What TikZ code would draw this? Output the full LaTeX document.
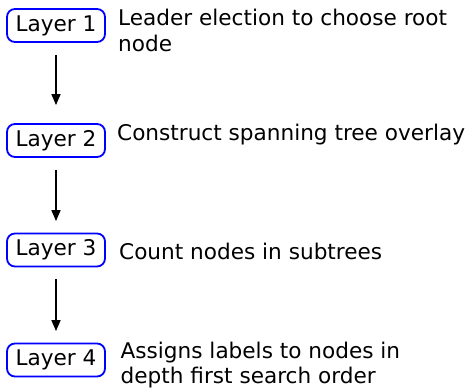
\documentclass[tikz,border=0pt]{standalone}
\usepackage{fontspec}
\setmainfont{DejaVu Sans}
\usetikzlibrary{arrows.meta}

\begin{document}
\begin{tikzpicture}[x=1pt, y=-1pt,
        layer/.style={draw=blue, line width=1.8pt, rounded corners=8pt, minimum width=98pt, minimum height=33pt, inner sep=0pt, font=\fontsize{21.6}{26}\selectfont},
        desc/.style={anchor=base west, align=left, inner sep=0pt, font=\fontsize{21.6}{26}\selectfont},
        flow/.style={line width=1.6pt, -{Triangle[length=11pt, width=9pt]}, shorten <=12pt}]
        \useasboundingbox (0,0) rectangle (471,389);

        \node[layer] (l1) at (56, 25.5) {Layer 1};
        \node[layer] (l2) at (56, 140.5) {Layer 2};
        \node[layer] (l3) at (56, 250) {Layer 3};
        \node[layer] (l4) at (56, 360) {Layer 4};

        % base of a two-line text is its last line
        \node[desc] (d1) at (118, 51.5) {Leader election to choose root\\node};
        \node[desc] (d2) at (117, 140.7) {Construct spanning tree overlay};
        \node[desc] (d3) at (119, 259.3) {Count nodes in subtrees};
        \node[desc] (d4) at (120.5, 383.5) {Assigns labels to nodes in\\[-1pt]depth first search order};

        \draw [flow, shorten >=18pt] (l1) -- (l2);
        \draw [flow, shorten >=11.5pt] (l2) -- (l3);
        \draw [flow, shorten >=11.5pt] (l3) -- (l4);
    \end{tikzpicture}
\end{document}
